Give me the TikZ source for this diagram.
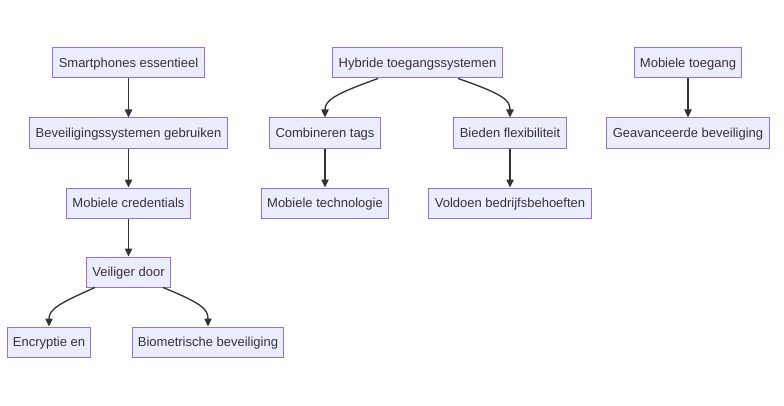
\documentclass[tikz,border=0pt]{standalone}
\usepackage{fontspec}
\setmainfont{Liberation Sans}
\usetikzlibrary{calc,arrows.meta}
\definecolor{boxfill}{HTML}{ECECFF}
\definecolor{boxline}{HTML}{9370DB}
\definecolor{ink}{HTML}{333333}
\tikzset{
  box/.style={draw=boxline, line width=0.75pt, fill=boxfill, text=ink, font=\fontsize{9.75pt}{11pt}\selectfont, minimum height=22.5pt, inner xsep=4.4pt, text height=8.2pt, text depth=0.8pt},
  link/.style={draw=ink, line width=1pt, -{Triangle[length=6pt,width=5.5pt]}}
}
\begin{document}
\begin{tikzpicture}[x=0.75pt, y=-0.75pt]
		%%%%% START %%%%%
		\useasboundingbox (0, 0) rectangle (784, 406);
		
		\node[box] (se) at (128.5, 63) {Smartphones essentieel};
		\node[box] (bg) at (128.5, 133) {Beveiligingssystemen gebruiken};
		\node[box] (mc) at (128.5, 203) {Mobiele credentials};
		\node[box] (vd) at (128.5, 272) {Veiliger door};
		\node[box] (ee) at (49, 342) {Encryptie en};
		\node[box] (bb) at (208, 342) {Biometrische beveiliging};
		
		\node[box] (ht) at (417.5, 63) {Hybride toegangssystemen};
		\node[box] (ct) at (325, 133) {Combineren tags};
		\node[box] (bf) at (510, 133) {Bieden flexibiliteit};
		\node[box] (mt) at (325, 203) {Mobiele technologie};
		\node[box] (vb) at (510, 203) {Voldoen bedrijfsbehoeften};
		
		\node[box] (mo) at (688, 63) {Mobiele toegang};
		\node[box] (gb) at (688, 133) {Geavanceerde beveiliging};
		
		\draw[link] (se) -- (bg);
		\draw[link] (bg) -- (mc);
		\draw[link] (mc) -- (vd);
		\draw[link] ($(vd.south)+(-33.5, 0)$) .. controls ($(vd.south)+(-70, 16)$) and ($(ee.north)+(0, -17)$) .. (ee.north);
		\draw[link] ($(vd.south)+(34.5, 0)$) .. controls ($(vd.south)+(74, 16)$) and ($(bb.north)+(0, -17)$) .. (bb.north);
		
		\draw[link] ($(ht.south)+(-39.5, 0)$) .. controls ($(ht.south)+(-84, 16)$) and ($(ct.north)+(0, -17)$) .. (ct.north);
		\draw[link] ($(ht.south)+(40.5, 0)$) .. controls ($(ht.south)+(87, 16)$) and ($(bf.north)+(0, -17)$) .. (bf.north);
		\draw[link] (ct) -- (mt);
		\draw[link] (bf) -- (vb);
		
		\draw[link] (mo) -- (gb);
		%%%%% END %%%%%
	\end{tikzpicture}
\end{document}
